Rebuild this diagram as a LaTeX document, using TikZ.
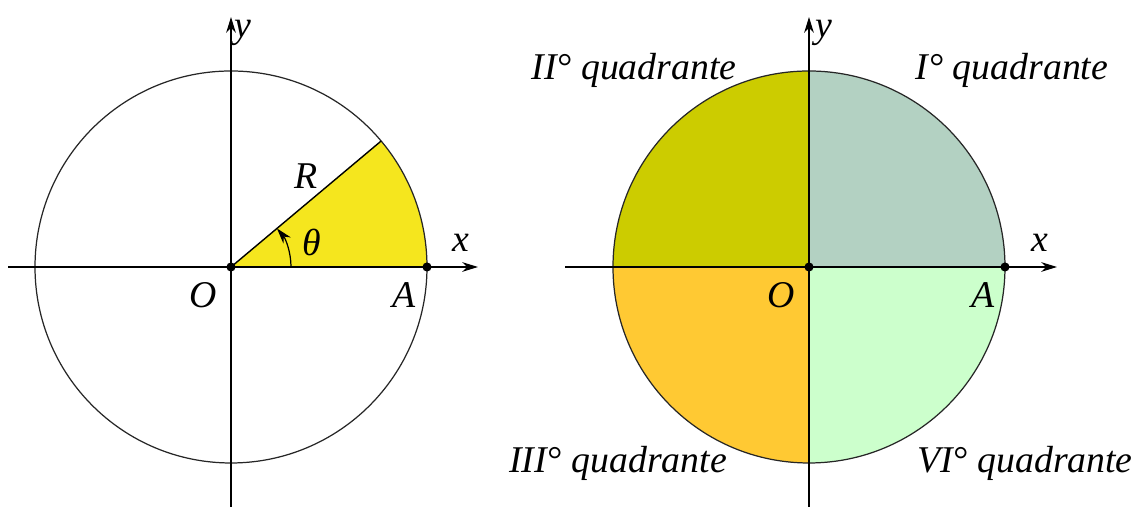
\documentclass[tikz,border=0pt]{standalone}
\usepackage{fontspec}
\setmainfont{Liberation Serif}
\usetikzlibrary{arrows.meta}
\definecolor{sectoryellow}{HTML}{F5E61E}
\definecolor{quadI}{HTML}{B3D1C2}
\definecolor{quadII}{HTML}{CCCC00}
\definecolor{quadIII}{HTML}{FFC933}
\definecolor{quadIV}{HTML}{CCFFCC}

\begin{document}
\begin{tikzpicture}[
    x=0.02cm, y=0.02cm,
    dot/.style={circle, fill=black, inner sep=0pt, minimum size=5.2pt},
    >={Stealth[length=9pt, width=5.5pt]},
    axis/.style={->, line width=0.9pt},
    rim/.style={line width=0.7pt, black!85},
    font=\fontsize{21.5}{26}\selectfont\itshape
]
    \useasboundingbox (0,0) rectangle (1137,509);

    % 左图：扇形与角 theta
    \begin{scope}[shift={(231,242)}]
        \fill[sectoryellow] (0,0) -- (196,0) arc[start angle=0, end angle=40, radius=196] -- cycle;
        \draw[rim] (0,0) circle[radius=196];

        \coordinate (P1) at (40:196);       % 半径端点
        \coordinate (xs1) at (-223,0);
        \coordinate (xe1) at (247,0);
        \coordinate (ys1) at (0,-240);
        \coordinate (ye1) at (0,250);

        \draw[axis] (xs1) -- (xe1);
        \draw[axis] (ys1) -- (ye1);

        \node[dot] (O1) at (0,0) {};        % 原点
        \node[dot] (A1) at (196,0) {};      % 点 A

        \draw[line width=0.8pt] (O1.center) -- node[above=5pt] {R} (P1);
        \draw[->, line width=0.7pt] (60,0) arc[start angle=0, end angle=40, radius=60];

        \node (theta1) at (81,25) {θ};
        \node (x1) at (230,24) {x};
        \node (y1) at (12,234) {y};
        \node (Olab1) at (-28,-28) {O};
        \node (Alab1) at (173,-28) {A};
    \end{scope}

    % 右图：四个象限
    \begin{scope}[shift={(809,242)}]
        \fill[quadI] (0,0) -- (196,0) arc[start angle=0, end angle=90, radius=196] -- cycle;
        \fill[quadII] (0,0) -- (0,196) arc[start angle=90, end angle=180, radius=196] -- cycle;
        \fill[quadIII] (0,0) -- (-196,0) arc[start angle=180, end angle=270, radius=196] -- cycle;
        \fill[quadIV] (0,0) -- (0,-196) arc[start angle=270, end angle=360, radius=196] -- cycle;
        \draw[rim] (0,0) circle[radius=196];

        \coordinate (xs2) at (-244,0);
        \coordinate (xe2) at (248,0);
        \coordinate (ys2) at (0,-240);
        \coordinate (ye2) at (0,250);

        \draw[axis] (xs2) -- (xe2);
        \draw[axis] (ys2) -- (ye2);

        \node[dot] (O2) at (0,0) {};
        \node[dot] (A2) at (196,0) {};

        \node (x2) at (231,24) {x};
        \node (y2) at (15,234) {y};
        \node (Olab2) at (-28,-28) {O};
        \node (Alab2) at (174,-28) {A};

        \node (qII) at (-175,197) {II° quadrante};
        \node (qI) at (203,197) {I° quadrante};
        \node (qIII) at (-191,-196) {III° quadrante};
        \node (qIV) at (216,-196) {VI° quadrante};
    \end{scope}
\end{tikzpicture}
\end{document}
